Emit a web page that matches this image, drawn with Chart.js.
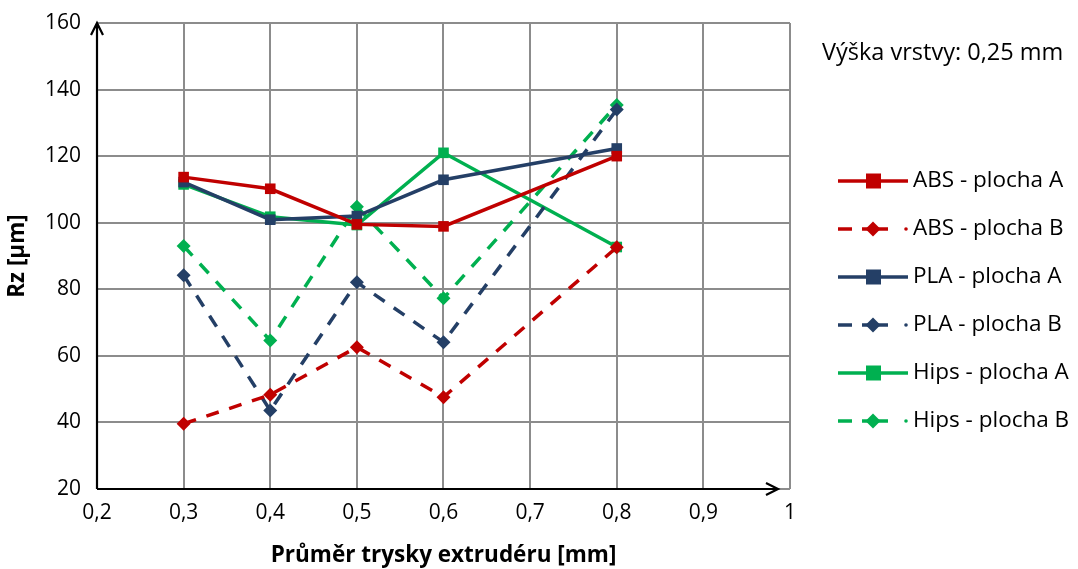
<!DOCTYPE html>
<html>
<head>
<meta charset="utf-8">
<script src="https://cdn.jsdelivr.net/npm/chart.js@4"></script>
<style>
  html, body { margin: 0; padding: 0; background: #fff; }
  #wrap { width: 1078px; height: 569px; }
</style>
</head>
<body>
<div id="wrap"><canvas id="myChart" width="1078" height="569"></canvas></div>
<script>
const xValues = [0.3, 0.4, 0.5, 0.6, 0.8];
const absA = [113.7, 110.2, 99.5, 98.9, 120.0];
const absB = [39.6, 48.3, 62.6, 47.6, 92.6];
const plaA = [112.2, 100.9, 102.0, 112.9, 122.3];
const plaB = [84.2, 43.6, 82.1, 64.1, 134.0];
const hipsA = [111.5, 101.8, 99.3, 121.0, 92.7];
const hipsB = [93.0, 64.6, 104.8, 77.3, 135.4];
const seriesNames = ['ABS - plocha A', 'ABS - plocha B', 'PLA - plocha A', 'PLA - plocha B', 'Hips - plocha A', 'Hips - plocha B'];
const noteText = 'Výška vrstvy: 0,25 mm';

const RED = '#C00000', BLUE = '#243F66', GREEN = '#00B050';
const FONT = "'Open Sans', 'DejaVu Sans', sans-serif";

function pts(vals) { return vals.map((v, i) => ({ x: xValues[i], y: v })); }

function makeSet(label, vals, color, dashed) {
    return {
        label: label,
        data: pts(vals),
        borderColor: color,
        backgroundColor: color,
        borderWidth: 3.5,
        borderDash: dashed ? [13, 11] : [],
        pointStyle: dashed ? 'rectRot' : 'rect',
        pointRadius: dashed ? 7 : 7.5,
        pointBorderWidth: 0,
        showLine: true,
        tension: 0
    };
}

const extras = {
    id: 'extras',
    afterDraw(chart) {
        const ctx = chart.ctx;
        const a = chart.chartArea;
        ctx.save();
        // axes with arrows
        ctx.strokeStyle = '#000';
        ctx.lineWidth = 2.2;
        ctx.beginPath();
        ctx.moveTo(a.left, a.bottom);
        ctx.lineTo(a.left, a.top);
        ctx.moveTo(a.left - 6, a.top + 12);
        ctx.lineTo(a.left, a.top);
        ctx.lineTo(a.left + 6, a.top + 12);
        ctx.moveTo(a.left, a.bottom);
        ctx.lineTo(a.right - 12, a.bottom);
        ctx.moveTo(a.right - 24, a.bottom - 6);
        ctx.lineTo(a.right - 12, a.bottom);
        ctx.lineTo(a.right - 24, a.bottom + 6);
        ctx.stroke();

        // note
        ctx.fillStyle = '#000';
        ctx.font = '23.5px ' + FONT;
        ctx.textBaseline = 'middle';
        ctx.textAlign = 'left';
        ctx.fillText(noteText, 822, 53);

        // legend
        chart.data.datasets.forEach((ds, i) => {
            const y = 181 + i * 48;
            const x0 = 838;
            ctx.strokeStyle = ds.borderColor;
            ctx.fillStyle = ds.borderColor;
            ctx.lineWidth = 3.5;
            ctx.beginPath();
            if (ds.borderDash.length) {
                ctx.moveTo(x0, y); ctx.lineTo(x0 + 14, y);
                ctx.moveTo(x0 + 24, y); ctx.lineTo(x0 + 50, y);
                ctx.stroke();
                ctx.beginPath();
                ctx.arc(x0 + 68, y, 1.8, 0, Math.PI * 2);
                ctx.fill();
                ctx.beginPath();
                ctx.moveTo(x0 + 35, y - 7.5); ctx.lineTo(x0 + 42.5, y);
                ctx.lineTo(x0 + 35, y + 7.5); ctx.lineTo(x0 + 27.5, y);
                ctx.closePath();
                ctx.fill();
            } else {
                ctx.moveTo(x0, y); ctx.lineTo(x0 + 70, y);
                ctx.stroke();
                ctx.fillRect(x0 + 28, y - 7.5, 15, 15);
            }
            ctx.fillStyle = '#000';
            ctx.font = '22.5px ' + FONT;
            ctx.fillText(ds.label, 913, y);
        });
        ctx.restore();
    }
};

new Chart(document.getElementById('myChart').getContext('2d'), {
    type: 'scatter',
    data: {
        datasets: [
            makeSet(seriesNames[0], absA, RED, false),
            makeSet(seriesNames[1], absB, RED, true),
            makeSet(seriesNames[2], plaA, BLUE, false),
            makeSet(seriesNames[3], plaB, BLUE, true),
            makeSet(seriesNames[4], hipsA, GREEN, false),
            makeSet(seriesNames[5], hipsB, GREEN, true)
        ]
    },
    options: {
        responsive: false,
        animation: false,
        layout: { padding: { top: 23, right: 288, left: 4, bottom: 0 } },
        plugins: {
            legend: { display: false },
            tooltip: { enabled: false }
        },
        scales: {
            x: {
                type: 'linear',
                min: 0.2,
                max: 1,
                afterFit: s => { s.height = 80; },
                border: { display: false },
                grid: { color: '#8c8c8c', lineWidth: 2, drawTicks: false },
                ticks: {
                    stepSize: 0.1,
                    padding: 11,
                    color: '#000',
                    font: { family: FONT, size: 21 },
                    callback: v => (Math.abs(v - 1) < 1e-9 ? '1' : v.toFixed(1).replace('.', ','))
                },
                title: {
                    display: true,
                    text: 'Průměr trysky extrudéru [mm]',
                    color: '#000',
                    font: { family: FONT, size: 22.5, weight: 'bold' },
                    padding: { top: 4, bottom: 0 }
                }
            },
            y: {
                min: 20,
                max: 160,
                afterFit: s => { s.width = 93; s.paddingTop = 0; },
                border: { display: false },
                grid: { color: '#8c8c8c', lineWidth: 2, drawTicks: false },
                ticks: {
                    stepSize: 20,
                    padding: 16,
                    color: '#000',
                    font: { family: FONT, size: 21 }
                },
                title: {
                    display: true,
                    text: 'Rz [µm]',
                    color: '#000',
                    font: { family: FONT, size: 22.5, weight: 'bold' },
                    padding: { top: 0, bottom: 0 }
                }
            }
        }
    },
    plugins: [extras]
});
</script>
</body>
</html>
